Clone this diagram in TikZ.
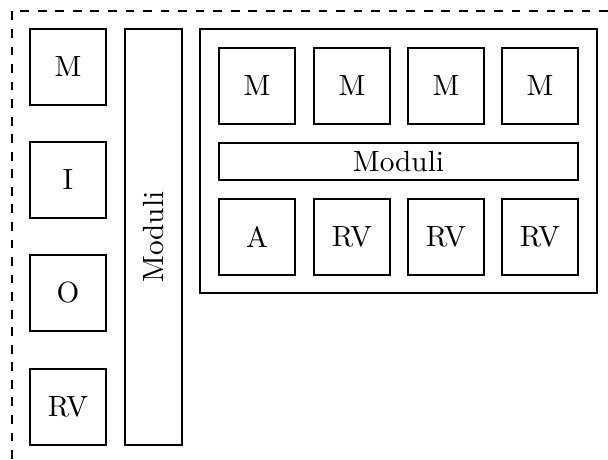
\documentclass[tikz,border=0pt]{standalone}
\usepackage{tikz}

\begin{document}
\begin{tikzpicture}[x=0.342pt, y=-0.342pt,
  cell/.style={draw, minimum width=26pt, minimum height=26pt, inner sep=0pt},
  bar/.style={draw, inner sep=0pt}]
\useasboundingbox (0,0) rectangle (608,460);
\draw[dashed] (608,11) -- (12,11) -- (12,460);
% left column
\node[cell] (lm) at (68,67) {M};
\node[cell] (li) at (68,180) {I};
\node[cell] (lo) at (68,293) {O};
\node[cell] (lrv) at (68,407) {RV};
\node[bar, minimum width=19.5pt, minimum height=142.3pt] (vmod) at (153.5,237) {};
\node[rotate=90] (vmodtext) at (vmod.center) {Moduli};
% right block
\node[bar, minimum width=135.8pt, minimum height=90.3pt] (block) at (398.5,161) {};
\node[cell] (m1) at (257,86) {M};
\node[cell] (m2) at (352,86) {M};
\node[cell] (m3) at (446,86) {M};
\node[cell] (m4) at (540,86) {M};
\node[bar, minimum width=122.8pt, minimum height=12.65pt] (hmod) at (398.5,161.5) {Moduli};
\node[cell] (a) at (257,237) {A};
\node[cell] (rv1) at (352,237) {RV};
\node[cell] (rv2) at (446,237) {RV};
\node[cell] (rv3) at (540,237) {RV};
\end{tikzpicture}
\end{document}
